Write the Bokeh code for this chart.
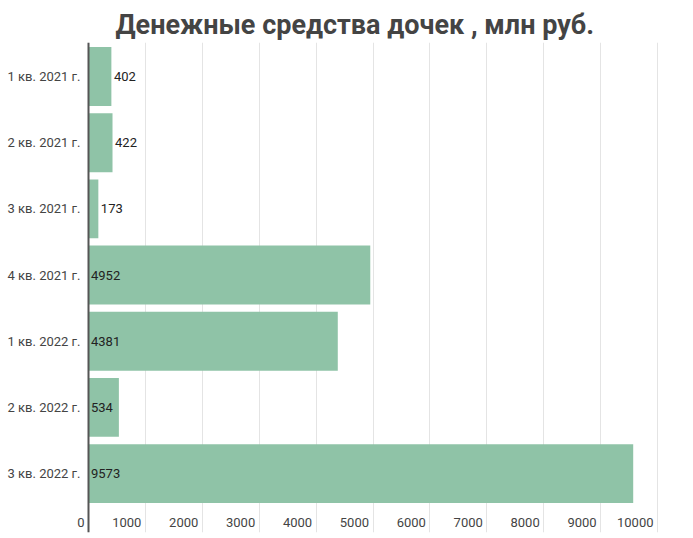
from bokeh.plotting import figure
from bokeh.models import ColumnDataSource, FixedTicker, Range1d, Title, Span
from bokeh.core.properties import value
from bokeh.embed import file_html
from bokeh.resources import INLINE

categories = ["1 кв. 2021 г.", "2 кв. 2021 г.", "3 кв. 2021 г.", "4 кв. 2021 г.",
              "1 кв. 2022 г.", "2 кв. 2022 г.", "3 кв. 2022 г."]
values = [402, 422, 173, 4952, 4381, 534, 9573]
x_ticks = [0, 1000, 2000, 3000, 4000, 5000, 6000, 7000, 8000, 9000, 10000]
title_text = "Денежные средства дочек , млн руб."

ys = [-i for i in range(len(categories))]
# labels sit inside the bar when they fit, otherwise just past its end
label_x = [v if v < 500 else 0 for v in values]
src = ColumnDataSource(dict(y=ys, v=values, lx=label_x, t=[str(v) for v in values],
                            c=categories, zero=[0] * len(values)))

p = figure(width=693, height=538, output_backend="svg", toolbar_location=None,
           x_range=Range1d(-1546.6, 10087.8), y_range=Range1d(-6.89, 0.514),
           min_border_left=0, min_border_right=31, min_border_top=42, min_border_bottom=6)
p.title = None
t = Title(text=title_text, align="left", text_font="Roboto", text_font_size="27px",
          text_font_style="bold", text_color="#444444", offset=115, standoff=4)
p.add_layout(t, "above")
p.outline_line_color = None
p.background_fill_color = "white"

p.xaxis.visible = False
p.yaxis.visible = False
p.xgrid.ticker = FixedTicker(ticks=x_ticks)
p.xgrid.grid_line_color = "#e4e4e4"
p.xgrid.grid_line_width = 1
p.ygrid.grid_line_color = None

p.hbar(y="y", right="v", left=0, height=0.89, source=src, fill_color="#8fc3a7",
       line_color=None)
p.add_layout(Span(location=0, dimension="height", line_color="#555555", line_width=2))

p.text(x="lx", y="y", text="t", source=src, x_offset=2.5, text_baseline="middle",
       text_align="left", text_font=value("Roboto"), text_font_size="13px", text_color="#222222")
p.text(x="zero", y="y", text="c", source=src, x_offset=-8, text_baseline="middle",
       text_align="right", text_font=value("Roboto"), text_font_size="13px", text_color="#444444")

tsrc = ColumnDataSource(dict(x=x_ticks, y=[-6.74] * len(x_ticks), t=[str(v) for v in x_ticks]))
p.text(x="x", y="y", text="t", source=tsrc, x_offset=-4, text_baseline="middle",
       text_align="right", text_font=value("Roboto"), text_font_size="13px", text_color="#444444")

open("out.html", "w").write(file_html(p, INLINE))
